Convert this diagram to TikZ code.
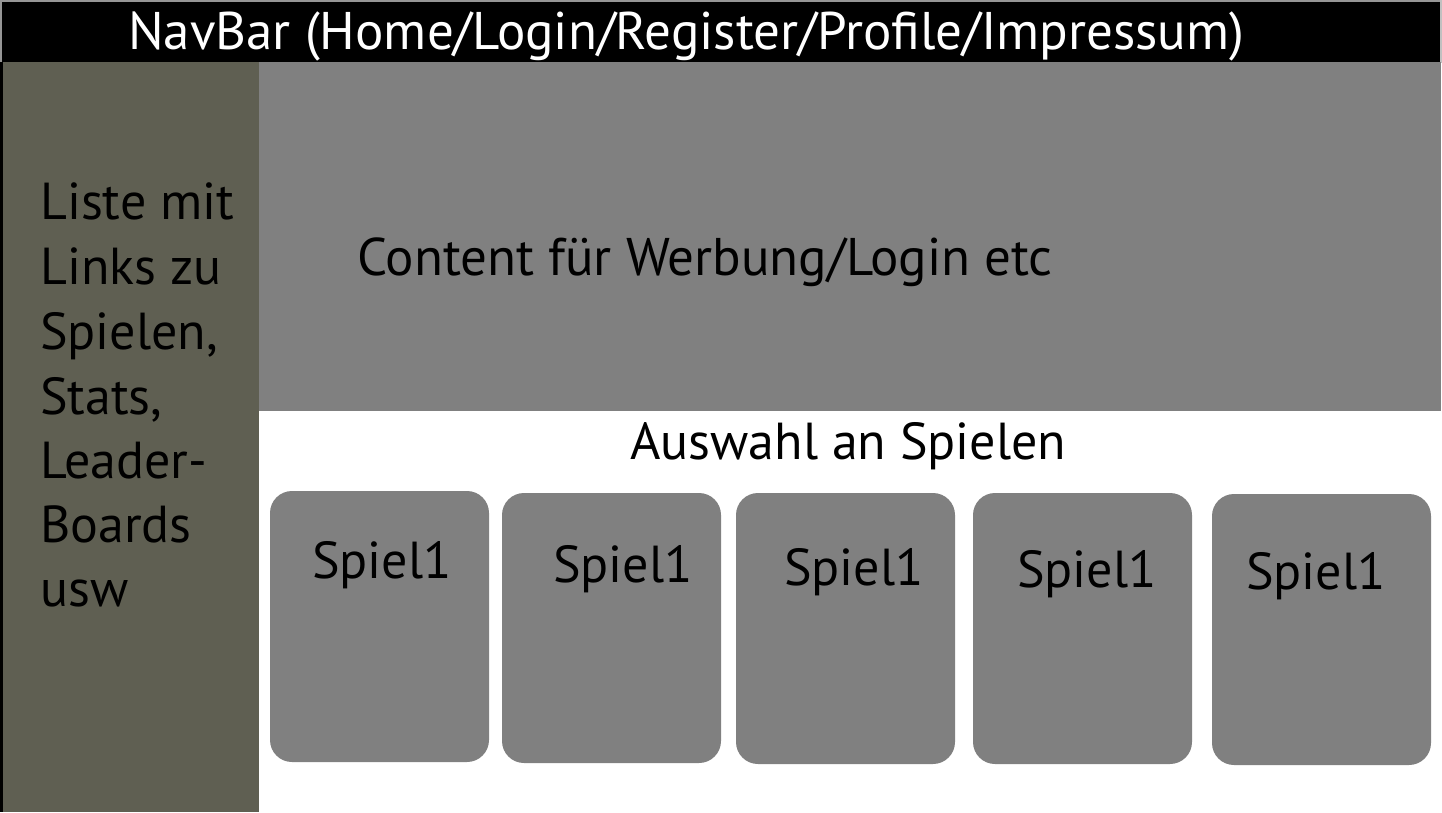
\documentclass[tikz,border=0pt]{standalone}
\usepackage{fontspec}
\setmainfont{PT Sans}
\definecolor{navblack}{RGB}{0,0,0}
\definecolor{sidebar}{RGB}{95,95,82}
\definecolor{panel}{RGB}{128,128,128}
\definecolor{edge}{RGB}{150,150,150}
\begin{document}
\begin{tikzpicture}[x=1pt,y=-1pt,
  lbl/.style={anchor=base west,inner sep=0pt,font=\fontsize{52}{60}\selectfont,text=black},
  wide/.style={lbl,font=\fontsize{53}{60}\selectfont},
  card/.style={fill=panel,rounded corners=22pt}]
\useasboundingbox (0,0) rectangle (1442,812);
\fill[white] (0,0) rectangle (1442,812);
% outer frame
\fill[edge] (0,0) rectangle (1442,2);
\fill[edge] (0,0) rectangle (2,63);
\fill[edge!60] (1440,0) rectangle (1442,63);
% navigation bar
\fill[navblack] (2,2) rectangle (1440,62);
\node[wide,text=white] (nav) at (128,49) {NavBar (Home/Login/Register/Profile/Impressum)};
% sidebar
\fill[black] (0,62) rectangle (3,812);
\fill[sidebar] (3,62) rectangle (259,812);
\node[lbl] (s1) at (40,219) {Liste mit};
\node[lbl] (s2) at (40,284) {Links zu};
\node[lbl] (s3) at (40,349) {Spielen,};
\node[lbl] (s4) at (40,414) {Stats,};
\node[lbl] (s5) at (40,478) {Leader-};
\node[lbl] (s6) at (40,542) {Boards};
\node[lbl] (s7) at (40,606) {usw};
% content area
\fill[panel] (259,62) rectangle (1441,411);
\node[wide] (content) at (357,275) {Content für Werbung/Login etc};
% game selection
\node[lbl] (auswahl) at (630,459) {Auswahl an Spielen};
\fill[card] (270,491) rectangle (489,762);
\fill[card] (502,493) rectangle (721,763);
\fill[card] (736,493) rectangle (955,764);
\fill[card] (973,493) rectangle (1192,764);
\fill[card] (1212,494) rectangle (1431,765);
\node[lbl] (g1) at (312,578) {Spiel1};
\node[lbl] (g2) at (553,582) {Spiel1};
\node[lbl] (g3) at (784,585) {Spiel1};
\node[lbl] (g4) at (1017,587) {Spiel1};
\node[lbl] (g5) at (1246,589) {Spiel1};
\end{tikzpicture}
\end{document}
